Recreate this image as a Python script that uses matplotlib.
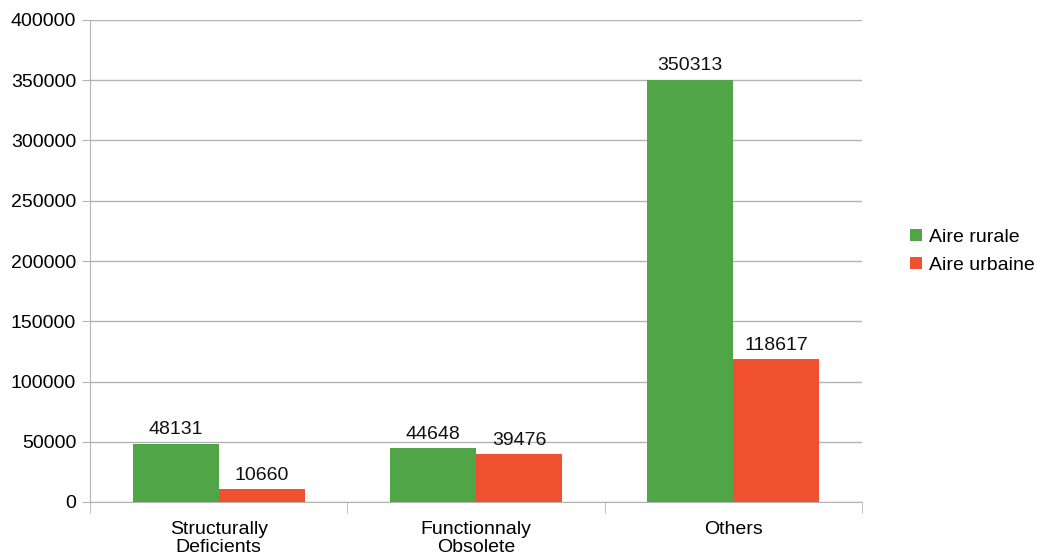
import numpy as np
import matplotlib.pyplot as plt

# Chart data
categories = ["Structurally\nDeficients", "Functionnaly\nObsolete", "Others"]
rurale = [48131, 44648, 350313]
urbaine = [10660, 39476, 118617]
series_names = ["Aire rurale", "Aire urbaine"]

GREEN = "#50a646"
RED = "#f05030"
GRID = "#b3b3b3"

plt.rcParams['font.family'] = ['Liberation Sans', 'DejaVu Sans']
plt.rcParams['font.size'] = 14

fig = plt.figure(figsize=(10.37, 5.54), dpi=100)
ax = fig.add_axes([90 / 1037, 52 / 554, 772 / 1037, 482 / 554])

x = np.arange(len(categories)) + 0.5
w = 86 / 257

b1 = ax.bar(x - w / 2, rurale, w, color=GREEN, label=series_names[0], zorder=3)
b2 = ax.bar(x + w / 2, urbaine, w, color=RED, label=series_names[1], zorder=3)

# Value labels
for bars in (b1, b2):
    for rect in bars:
        h = rect.get_height()
        ax.annotate(str(int(h)), (rect.get_x() + rect.get_width() / 2, h),
                    xytext=(0, 4), textcoords="offset points",
                    ha="center", va="bottom", color="#111111")

ax.set_xlim(0, 3)
ax.set_ylim(0, 400000)
ax.set_yticks(np.arange(0, 400001, 50000))
ax.yaxis.grid(True, color=GRID, linewidth=1, zorder=0)
ax.tick_params(axis="y", length=6, color=GRID, pad=4)

# category labels, separators as minor ticks
ax.set_xticks(x)
ax.set_xticklabels(categories, linespacing=1.08)
ax.tick_params(axis="x", which="major", length=0, pad=14)
ax.set_xticks([0, 1, 2, 3], minor=True)
ax.tick_params(axis="x", which="minor", length=8, color=GRID)

for side in ("top", "right"):
    ax.spines[side].set_visible(False)
ax.spines["left"].set_color(GRID)
ax.spines["bottom"].set_color(GRID)

ax.legend(loc="center left", bbox_to_anchor=(1.062, 0.52), frameon=False,
          handlelength=0.6, handleheight=0.6, handletextpad=0.4,
          labelspacing=0.56, borderaxespad=0, borderpad=0)

fig.savefig("out.png", dpi=100)
